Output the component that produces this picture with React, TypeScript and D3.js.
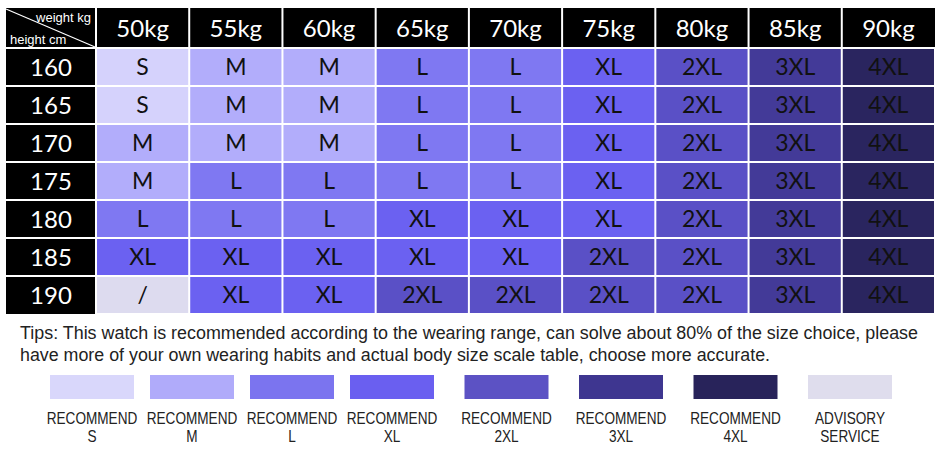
import React from 'react';
import * as d3 from 'd3';

const weights = ['50kg', '55kg', '60kg', '65kg', '70kg', '75kg', '80kg', '85kg', '90kg'];
const heights = ['160', '165', '170', '175', '180', '185', '190'];

const size160 = ['S', 'M', 'M', 'L', 'L', 'XL', '2XL', '3XL', '4XL'];
const size165 = ['S', 'M', 'M', 'L', 'L', 'XL', '2XL', '3XL', '4XL'];
const size170 = ['M', 'M', 'M', 'L', 'L', 'XL', '2XL', '3XL', '4XL'];
const size175 = ['M', 'L', 'L', 'L', 'L', 'XL', '2XL', '3XL', '4XL'];
const size180 = ['L', 'L', 'L', 'XL', 'XL', 'XL', '2XL', '3XL', '4XL'];
const size185 = ['XL', 'XL', 'XL', 'XL', 'XL', '2XL', '2XL', '3XL', '4XL'];
const size190 = ['/', 'XL', 'XL', '2XL', '2XL', '2XL', '2XL', '3XL', '4XL'];
const sizeRows = [size160, size165, size170, size175, size180, size185, size190];

const sizeKeys = ['S', 'M', 'L', 'XL', '2XL', '3XL', '4XL', '/'];
const legendLine1 = ['RECOMMEND', 'RECOMMEND', 'RECOMMEND', 'RECOMMEND', 'RECOMMEND', 'RECOMMEND', 'RECOMMEND', 'ADVISORY'];
const legendLine2 = ['S', 'M', 'L', 'XL', '2XL', '3XL', '4XL', 'SERVICE'];

const cornerTop = 'weight kg';
const cornerBottom = 'height cm';

const tipsLines = [
  'Tips: This watch is recommended according to the wearing range, can solve about 80% of the size choice, please',
  'have more of your own wearing habits and actual body size scale table, choose more accurate.',
];

// palette (style, kept apart from data)
const palette = ['#d5d2fc', '#b2adfb', '#7f78f2', '#6b61f1', '#5a50c6', '#433a98', '#2a255f', '#dddbef'];
const legendPalette = ['#d9d7fb', '#b0abfa', '#7b74ef', '#6a5ff0', '#5c52c4', '#3e3690', '#28235a', '#dfdded'];

const W = 950;
const H = 457;

export default function App() {
  const color = d3.scaleOrdinal<string, string>().domain(sizeKeys).range(palette);
  const legendColor = d3.scaleOrdinal<string, string>().domain(sizeKeys).range(legendPalette);

  const left = 6;
  const top = 8;
  const headW = 96;
  const headH = 48;
  const right = 935;
  const bottom = 314;

  const x = d3.scaleBand<string>().domain(weights).range([headW, right]);
  const y = d3.scaleBand<string>().domain(heights).range([headH, bottom]);
  const g = 1; // half gap

  const legendX = d3.scaleLinear().domain([0, 3, 7]).range([92, 392, 850]);
  const swW = 84;

  const cellFont = 'Lato, Carlito, Calibri, "Noto Sans", sans-serif';
  const sansFont = '"Liberation Sans", Arial, sans-serif';

  return (
    <svg
      width={W}
      height={H}
      viewBox={`0 0 ${W} ${H}`}
      style={{ position: 'absolute', left: 0, top: 0, background: '#fff' }}
    >
      <rect x={0} y={0} width={W} height={H} fill="#fff" />

      {/* corner header */}
      <rect x={left} y={top} width={headW - left - g} height={headH - top - g} fill="#000" />
      <line x1={left} y1={top + 1} x2={headW - g} y2={headH - g} stroke="#fff" strokeWidth={1.2} />
      <text x={91} y={22} fill="#fff" fontSize={13} fontFamily={sansFont} textAnchor="end">
        {cornerTop}
      </text>
      <text x={10} y={44} fill="#fff" fontSize={13} fontFamily={sansFont}>
        {cornerBottom}
      </text>

      {/* column headers */}
      {weights.map((w) => (
        <g key={w}>
          <rect
            x={(x(w) as number) + g}
            y={top}
            width={x.bandwidth() - (w === weights[weights.length - 1] ? g : 2 * g)}
            height={headH - top - g}
            fill="#000"
          />
          <text
            x={(x(w) as number) + x.bandwidth() / 2}
            y={(top + headH) / 2}
            dy="0.36em"
            fill="#fff"
            fontSize={24}
            fontFamily={cellFont}
            textAnchor="middle"
          >
            {w}
          </text>
        </g>
      ))}

      {/* row headers */}
      {heights.map((h, i) => (
        <g key={h}>
          <rect
            x={left}
            y={(y(h) as number) + g}
            width={headW - left - g}
            height={y.bandwidth() - (i === heights.length - 1 ? g : 2 * g)}
            fill="#000"
          />
          <text
            x={(left + headW) / 2}
            y={(y(h) as number) + y.bandwidth() / 2}
            dy="0.36em"
            fill="#fff"
            fontSize={24}
            fontFamily={cellFont}
            textAnchor="middle"
          >
            {h}
          </text>
        </g>
      ))}

      {/* cells */}
      {heights.map((h, i) =>
        weights.map((w, j) => {
          const s = sizeRows[i][j];
          return (
            <g key={h + w}>
              <rect
                x={(x(w) as number) + g}
                y={(y(h) as number) + g}
                width={x.bandwidth() - 2 * g}
                height={y.bandwidth() - 2 * g}
                fill={color(s)}
              />
              <text
                x={(x(w) as number) + x.bandwidth() / 2}
                y={(y(h) as number) + y.bandwidth() / 2}
                dy="0.36em"
                fill="#111"
                fontSize={23}
                fontFamily={cellFont}
                textAnchor="middle"
              >
                {s}
              </text>
            </g>
          );
        })
      )}

      {/* tips */}
      {tipsLines.map((t, i) => (
        <text
          key={i}
          x={20}
          y={339 + i * 21.5}
          fill="#222"
          fontSize={17.5}
          fontFamily={sansFont}
          textLength={i === 0 ? 898 : 750}
          lengthAdjust="spacingAndGlyphs"
        >
          {t}
        </text>
      ))}

      {/* legend */}
      {sizeKeys.map((k, i) => {
        const cx = legendX(i);
        return (
          <g key={k}>
            <rect x={cx - swW / 2} y={375} width={swW} height={24} fill={legendColor(k)} />
            <g transform={`translate(${cx},0) scale(0.85,1)`}>
              <text x={0} y={424} fill="#222" fontSize={16} fontFamily={sansFont} textAnchor="middle">
                {legendLine1[i]}
              </text>
              <text x={0} y={442} fill="#222" fontSize={16} fontFamily={sansFont} textAnchor="middle">
                {legendLine2[i]}
              </text>
            </g>
          </g>
        );
      })}
    </svg>
  );
}
